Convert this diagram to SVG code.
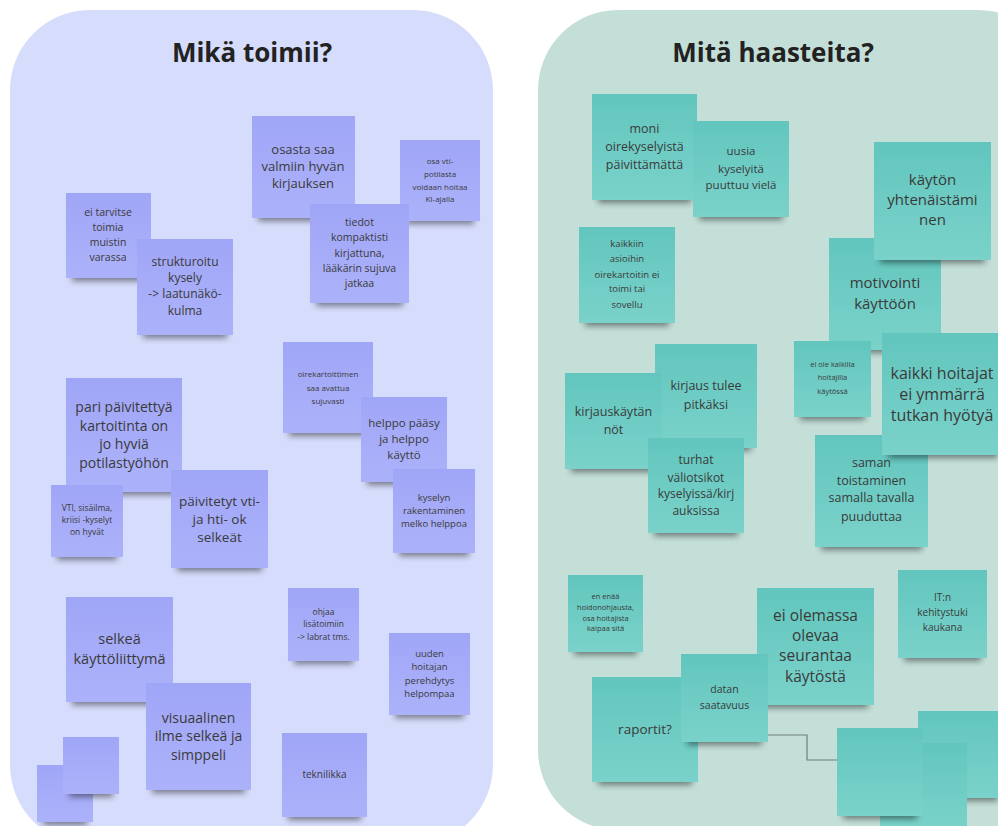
<svg xmlns="http://www.w3.org/2000/svg" width="998" height="826" viewBox="0 0 998 826">
<defs>
<linearGradient id="gl" x1="0" y1="0" x2="0" y2="1"><stop offset="0" stop-color="#A0A6F7"/><stop offset="1" stop-color="#ACB2F9"/></linearGradient>
<linearGradient id="gr" x1="0" y1="0" x2="0" y2="1"><stop offset="0" stop-color="#62C6BE"/><stop offset="1" stop-color="#7AD2CA"/></linearGradient>
<filter id="blur" x="-20%" y="-50%" width="140%" height="200%"><feGaussianBlur stdDeviation="3"/></filter>
<style>
.pl{fill:#D6DCFB}
.pr{fill:#C4DFD8}
.nl{fill:url(#gl)}
.nr{fill:url(#gr)}
.sh{fill:#000;opacity:.45;filter:url(#blur)}
.t{font-family:"Open Sans","Liberation Sans",sans-serif;fill:#3a3a3a;text-anchor:middle}
.ttl{font-family:"Open Sans","Liberation Sans",sans-serif;font-weight:bold;font-size:26px;fill:#222;text-anchor:middle}
.cn{fill:none;stroke:#6f7f7b;stroke-width:1.2}
</style>
</defs>
<rect width="998" height="826" fill="#ffffff"/>
<g id="panel-left"><rect class="pl" x="10" y="10" width="483" height="835" rx="80" ry="80"/><text class="ttl" x="252" y="62">Mikä toimii?</text></g>
<g id="panel-right"><rect class="pr" x="538" y="10" width="520" height="820" rx="80" ry="80"/><text class="ttl" x="773" y="62">Mitä haasteita?</text></g>
<g id="connectors"><polyline class="cn" points="768,735 807,735 807,760 918,760"/></g>

<g id="n1"><rect class="sh" x="72" y="270" width="73" height="11"/><rect class="nl" x="66" y="193" width="85" height="85"/><text class="t" font-size="10.5"><tspan x="108" y="216">ei tarvitse</tspan><tspan x="108" y="231">toimia</tspan><tspan x="108" y="246">muistin</tspan><tspan x="108" y="261">varassa</tspan></text></g>
<g id="n2"><rect class="sh" x="143" y="327" width="84" height="11"/><rect class="nl" x="137" y="239" width="96" height="96"/><text class="t" font-size="12"><tspan x="185" y="266">strukturoitu</tspan><tspan x="185" y="282">kysely</tspan><tspan x="185" y="298">-&gt; laatunäkö-</tspan><tspan x="185" y="315">kulma</tspan></text></g>
<g id="n3"><rect class="sh" x="258" y="210" width="91" height="11"/><rect class="nl" x="252" y="116" width="103" height="102"/><text class="t" font-size="13"><tspan x="303" y="154">osasta saa</tspan><tspan x="303" y="171">valmiin hyvän</tspan><tspan x="303" y="188">kirjauksen</tspan></text></g>
<g id="n4"><rect class="sh" x="406" y="213" width="68" height="11"/><rect class="nl" x="400" y="140" width="80" height="81"/><text class="t" font-size="8"><tspan x="440" y="164">osa vti-</tspan><tspan x="440" y="177">potilasta</tspan><tspan x="440" y="189.5">voidaan hoitaa</tspan><tspan x="440" y="202">KI-ajalla</tspan></text></g>
<g id="n5"><rect class="sh" x="316" y="295" width="87" height="11"/><rect class="nl" x="310" y="204" width="99" height="99"/><text class="t" font-size="10.5"><tspan x="359.5" y="225.5">tiedot</tspan><tspan x="359.5" y="241">kompaktisti</tspan><tspan x="359.5" y="257">kirjattuna,</tspan><tspan x="359.5" y="272">lääkärin sujuva</tspan><tspan x="359.5" y="287">jatkaa</tspan></text></g>
<g id="n6"><rect class="sh" x="72" y="484" width="104" height="11"/><rect class="nl" x="66" y="378" width="116" height="114"/><text class="t" font-size="14"><tspan x="124" y="412">pari päivitettyä</tspan><tspan x="124" y="430.5">kartoitinta on</tspan><tspan x="124" y="449">jo hyviä</tspan><tspan x="124" y="468">potilastyöhön</tspan></text></g>
<g id="n7"><rect class="sh" x="57" y="549" width="60" height="11"/><rect class="nl" x="51" y="485" width="72" height="72"/><text class="t" font-size="8.5"><tspan x="87" y="511">VTI, sisäilma,</tspan><tspan x="87" y="523">kriisi -kyselyt</tspan><tspan x="87" y="535">on hyvät</tspan></text></g>
<g id="n8"><rect class="sh" x="177" y="560" width="85" height="11"/><rect class="nl" x="171" y="470" width="97" height="98"/><text class="t" font-size="13.5"><tspan x="219.5" y="506">päivitetyt vti-</tspan><tspan x="219.5" y="524">ja hti- ok</tspan><tspan x="219.5" y="542">selkeät</tspan></text></g>
<g id="n9"><rect class="sh" x="289" y="425" width="78" height="11"/><rect class="nl" x="283" y="342" width="90" height="91"/><text class="t" font-size="8"><tspan x="328" y="377">oirekartoittimen</tspan><tspan x="328" y="390.5">saa avattua</tspan><tspan x="328" y="403.5">sujuvasti</tspan></text></g>
<g id="n10"><rect class="sh" x="367" y="474" width="74" height="11"/><rect class="nl" x="361" y="397" width="86" height="85"/><text class="t" font-size="11.5"><tspan x="404" y="427">helppo pääsy</tspan><tspan x="404" y="443">ja helppo</tspan><tspan x="404" y="459">käyttö</tspan></text></g>
<g id="n11"><rect class="sh" x="399" y="545" width="70" height="11"/><rect class="nl" x="393" y="469" width="82" height="84"/><text class="t" font-size="9.5"><tspan x="434" y="501">kyselyn</tspan><tspan x="434" y="514">rakentaminen</tspan><tspan x="434" y="527">melko helppoa</tspan></text></g>
<g id="n12"><rect class="sh" x="72" y="694" width="95" height="11"/><rect class="nl" x="66" y="597" width="107" height="105"/><text class="t" font-size="14.5"><tspan x="119.5" y="644">selkeä</tspan><tspan x="119.5" y="663.5">käyttöliittymä</tspan></text></g>
<g id="n13"><rect class="sh" x="152" y="782" width="93" height="11"/><rect class="nl" x="146" y="683" width="105" height="107"/><text class="t" font-size="14"><tspan x="198.5" y="723">visuaalinen</tspan><tspan x="198.5" y="741">ilme selkeä ja</tspan><tspan x="198.5" y="759.5">simppeli</tspan></text></g>
<g id="n15"><rect class="sh" x="43" y="814" width="44" height="11"/><rect class="nl" x="37" y="765" width="56" height="57"/></g>
<g id="n14"><rect class="sh" x="69" y="786" width="44" height="11"/><rect class="nl" x="63" y="737" width="56" height="57"/></g>
<g id="n16"><rect class="sh" x="294" y="653" width="59" height="11"/><rect class="nl" x="288" y="588" width="71" height="73"/><text class="t" font-size="8.5"><tspan x="323.5" y="614.5">ohjaa</tspan><tspan x="323.5" y="627">lisätoimiin</tspan><tspan x="323.5" y="639.5">-&gt; labrat tms.</tspan></text></g>
<g id="n17"><rect class="sh" x="395" y="707" width="69" height="11"/><rect class="nl" x="389" y="633" width="81" height="82"/><text class="t" font-size="9.5"><tspan x="429.5" y="657">uuden</tspan><tspan x="429.5" y="670">hoitajan</tspan><tspan x="429.5" y="684">perehdytys</tspan><tspan x="429.5" y="697">helpompaa</tspan></text></g>
<g id="n18"><rect class="sh" x="288" y="809" width="73" height="11"/><rect class="nl" x="282" y="733" width="85" height="84"/><text class="t" font-size="10"><tspan x="324.5" y="777.5">teknilikka</tspan></text></g>

<g id="n19"><rect class="sh" x="598" y="192" width="93" height="11"/><rect class="nr" x="592" y="94" width="105" height="106"/><text class="t" font-size="12.5"><tspan x="644.5" y="132.5">moni</tspan><tspan x="644.5" y="150.5">oirekyselyistä</tspan><tspan x="644.5" y="169">päivittämättä</tspan></text></g>
<g id="n20"><rect class="sh" x="699" y="209" width="84" height="11"/><rect class="nr" x="693" y="121" width="96" height="96"/><text class="t" font-size="11.5"><tspan x="741" y="155">uusia</tspan><tspan x="741" y="172.5">kyselyitä</tspan><tspan x="741" y="188.5">puuttuu vielä</tspan></text></g>
<g id="n22"><rect class="sh" x="585" y="315" width="84" height="11"/><rect class="nr" x="579" y="227" width="96" height="96"/><text class="t" font-size="9.5"><tspan x="627" y="246.5">kaikkiin</tspan><tspan x="627" y="261.5">asioihin</tspan><tspan x="627" y="277.5">oirekartoitin ei</tspan><tspan x="627" y="291.5">toimi tai</tspan><tspan x="627" y="307.5">sovellu</tspan></text></g>
<g id="n23"><rect class="sh" x="835" y="342" width="100" height="11"/><rect class="nr" x="829" y="238" width="112" height="112"/><text class="t" font-size="15"><tspan x="885" y="287.5">motivointi</tspan><tspan x="885" y="308.5">käyttöön</tspan></text></g>
<g id="n21"><rect class="sh" x="880" y="252" width="105" height="11"/><rect class="nr" x="874" y="142" width="117" height="118"/><text class="t" font-size="15"><tspan x="932.5" y="185">käytön</tspan><tspan x="932.5" y="205">yhtenäistämi</tspan><tspan x="932.5" y="225">nen</tspan></text></g>
<g id="n24"><rect class="sh" x="661" y="440" width="90" height="11"/><rect class="nr" x="655" y="344" width="102" height="104"/><text class="t" font-size="12.5"><tspan x="706" y="390">kirjaus tulee</tspan><tspan x="706" y="408.5">pitkäksi</tspan></text></g>
<g id="n25"><rect class="sh" x="571" y="461" width="85" height="11"/><rect class="nr" x="565" y="373" width="97" height="96"/><text class="t" font-size="12.5"><tspan x="613.5" y="416">kirjauskäytän</tspan><tspan x="613.5" y="433.5">nöt</tspan></text></g>
<g id="n26"><rect class="sh" x="654" y="525" width="84" height="11"/><rect class="nr" x="648" y="438" width="96" height="95"/><text class="t" font-size="12"><tspan x="696" y="464">turhat</tspan><tspan x="696" y="481.5">väliotsikot</tspan><tspan x="696" y="498">kyselyissä/kirj</tspan><tspan x="696" y="515">auksissa</tspan></text></g>
<g id="n29"><rect class="sh" x="821" y="539" width="101" height="11"/><rect class="nr" x="815" y="435" width="113" height="112"/><text class="t" font-size="12.5"><tspan x="871.5" y="467">saman</tspan><tspan x="871.5" y="484.5">toistaminen</tspan><tspan x="871.5" y="502">samalla tavalla</tspan><tspan x="871.5" y="521">puuduttaa</tspan></text></g>
<g id="n27"><rect class="sh" x="800" y="409" width="65" height="11"/><rect class="nr" x="794" y="341" width="77" height="76"/><text class="t" font-size="7.5"><tspan x="832.5" y="367">ei ole kaikilla</tspan><tspan x="832.5" y="380">hoitajilla</tspan><tspan x="832.5" y="394">käytössä</tspan></text></g>
<g id="n28"><rect class="sh" x="888" y="447" width="110" height="11"/><rect class="nr" x="882" y="333" width="118" height="122"/><text class="t" font-size="16"><tspan x="942" y="378.5">kaikki hoitajat</tspan><tspan x="942" y="399.5">ei ymmärrä</tspan><tspan x="942" y="420.5">tutkan hyötyä</tspan></text></g>
<g id="n30"><rect class="sh" x="574" y="644" width="63" height="11"/><rect class="nr" x="568" y="575" width="75" height="77"/><text class="t" font-size="7.5"><tspan x="605.5" y="598.5">en enää</tspan><tspan x="605.5" y="609.5">hoidonohjausta,</tspan><tspan x="605.5" y="620.5">osa hoitajista</tspan><tspan x="605.5" y="631">kaipaa sitä</tspan></text></g>
<g id="n31"><rect class="sh" x="763" y="697" width="105" height="11"/><rect class="nr" x="757" y="588" width="117" height="117"/><text class="t" font-size="15.5"><tspan x="815.5" y="620.5">ei olemassa</tspan><tspan x="815.5" y="641">olevaa</tspan><tspan x="815.5" y="661">seurantaa</tspan><tspan x="815.5" y="681.5">käytöstä</tspan></text></g>
<g id="n32"><rect class="sh" x="904" y="650" width="77" height="11"/><rect class="nr" x="898" y="570" width="89" height="88"/><text class="t" font-size="10"><tspan x="942.5" y="601">IT:n</tspan><tspan x="942.5" y="616">kehitystuki</tspan><tspan x="942.5" y="631">kaukana</tspan></text></g>
<g id="n33"><rect class="sh" x="598" y="774" width="94" height="11"/><rect class="nr" x="592" y="677" width="106" height="105"/><text class="t" font-size="13.5"><tspan x="645" y="734">raportit?</tspan></text></g>
<g id="n34"><rect class="sh" x="687" y="734" width="75" height="11"/><rect class="nr" x="681" y="654" width="87" height="88"/><text class="t" font-size="10.5"><tspan x="724.5" y="692.5">datan</tspan><tspan x="724.5" y="708.5">saatavuus</tspan></text></g>
<g id="n35"><rect class="sh" x="924" y="790" width="74" height="11"/><rect class="nr" x="918" y="711" width="82" height="87"/></g>
<g id="n36"><rect class="sh" x="886" y="818" width="75" height="11"/><rect class="nr" x="880" y="743" width="87" height="86"/></g>
<g id="n37"><rect class="sh" x="843" y="808" width="74" height="11"/><rect class="nr" x="837" y="728" width="86" height="88"/></g>
</svg>
